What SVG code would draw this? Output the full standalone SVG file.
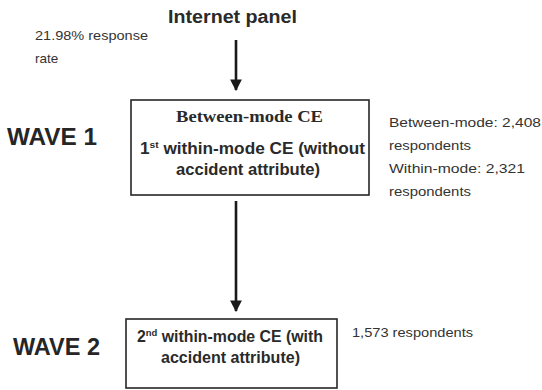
<svg xmlns="http://www.w3.org/2000/svg" width="542" height="390" viewBox="0 0 542 390">
  <defs>
    <marker id="head" viewBox="0 0 10 10" refX="9" refY="5" markerWidth="4.5" markerHeight="4.5" orient="auto" markerUnits="strokeWidth">
      <path d="M0,0 L10,5 L0,10 z" fill="#1a1a1a"/>
    </marker>
    <style>
      .box { fill: #ffffff; stroke: #262626; stroke-width: 1.6; }
      .edge { stroke: #1a1a1a; stroke-width: 2.6; fill: none; marker-end: url(#head); }
      .hd { font-family: "Liberation Sans", Arial, sans-serif; font-weight: bold; fill: #2a2a2a; }
      .bx { font-family: "Liberation Sans", Arial, sans-serif; font-weight: bold; fill: #2a2a2a; font-size: 16px; }
      .serif { font-family: "Liberation Serif", "Times New Roman", serif; font-weight: bold; fill: #2a2a2a; font-size: 17px; }
      .note { font-family: "Liberation Sans", Arial, sans-serif; fill: #333333; font-size: 13.5px; }
      .wave { font-family: "Liberation Sans", Arial, sans-serif; font-weight: bold; fill: #262626; font-size: 24px; }
    </style>
  </defs>
  <rect width="542" height="390" fill="#ffffff"/>

  <!-- connectors -->
  <g id="connectors">
    <line class="edge" x1="236" y1="40" x2="236" y2="90"/>
    <line class="edge" x1="236" y1="201" x2="236" y2="311"/>
  </g>

  <!-- source -->
  <g id="internet-panel">
    <text class="hd" x="168" y="23" font-size="18" textLength="129" lengthAdjust="spacingAndGlyphs">Internet panel</text>
    <text class="note" x="35" y="40" textLength="113" lengthAdjust="spacingAndGlyphs">21.98% response</text>
    <text class="note" x="35" y="63">rate</text>
  </g>

  <!-- wave 1 -->
  <g id="wave1">
    <text class="wave" x="7" y="145" textLength="90" lengthAdjust="spacingAndGlyphs">WAVE 1</text>
    <rect class="box" x="131" y="100" width="238" height="95"/>
    <text class="serif" x="176" y="122" textLength="147" lengthAdjust="spacingAndGlyphs">Between-mode CE</text>
    <text class="bx" x="140" y="154" textLength="225" lengthAdjust="spacingAndGlyphs">1<tspan font-size="9.5" dy="-6">st</tspan><tspan dy="6"> within-mode CE (without</tspan></text>
    <text class="bx" x="176" y="175" textLength="144" lengthAdjust="spacingAndGlyphs">accident attribute)</text>
    <text class="note" x="389" y="127" textLength="152" lengthAdjust="spacingAndGlyphs">Between-mode: 2,408</text>
    <text class="note" x="389" y="150" textLength="82" lengthAdjust="spacingAndGlyphs">respondents</text>
    <text class="note" x="389" y="173" textLength="136" lengthAdjust="spacingAndGlyphs">Within-mode: 2,321</text>
    <text class="note" x="389" y="196" textLength="82" lengthAdjust="spacingAndGlyphs">respondents</text>
  </g>

  <!-- wave 2 -->
  <g id="wave2">
    <text class="wave" x="13" y="355" textLength="87" lengthAdjust="spacingAndGlyphs">WAVE 2</text>
    <rect class="box" x="126" y="319" width="211" height="69"/>
    <text class="bx" x="137" y="342" textLength="186" lengthAdjust="spacingAndGlyphs">2<tspan font-size="9.5" dy="-6">nd</tspan><tspan dy="6"> within-mode CE (with</tspan></text>
    <text class="bx" x="161" y="363" textLength="139" lengthAdjust="spacingAndGlyphs">accident attribute)</text>
    <text class="note" x="352" y="337" textLength="121" lengthAdjust="spacingAndGlyphs">1,573 respondents</text>
  </g>
</svg>
